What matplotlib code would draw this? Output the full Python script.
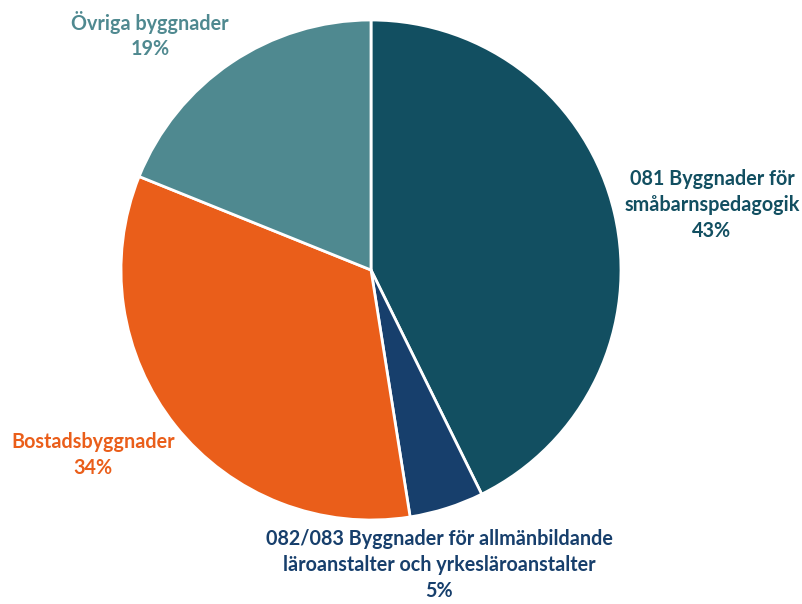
import matplotlib
matplotlib.use("Agg")
import matplotlib.pyplot as plt

categories = ["081 Byggnader för\nsmåbarnspedagogik",
              "082/083 Byggnader för allmänbildande\nläroanstalter och yrkesläroanstalter",
              "Bostadsbyggnader",
              "Övriga byggnader"]
values = [42.7, 4.8, 33.6, 18.9]
pct_labels = ["43%", "5%", "34%", "19%"]
colors = ["#124F61", "#173F6C", "#EA5E1A", "#4F8990"]

label_pos = [(1.364, 0.26), (0.272, -1.18), (-1.112, -0.74), (-0.884, 0.94)]

fig = plt.figure(figsize=(8.02, 6.04), dpi=100)
ax = fig.add_axes([121/802, 84/604, 500/802, 500/604])
ax.pie(values, colors=colors, startangle=90, counterclock=False,
       wedgeprops=dict(edgecolor="white", linewidth=2))
ax.set_xlim(-1, 1)
ax.set_ylim(-1, 1)
ax.set_aspect("equal")
ax.axis("off")

for cat, pct, col, (x, y) in zip(categories, pct_labels, colors, label_pos):
    ax.text(x, y, f"{cat}\n{pct}", ha="center", va="center", color=col,
            fontsize=14.2, fontweight="bold", family=["Lato", "DejaVu Sans"],
            linespacing=1.35, clip_on=False)

fig.savefig("out.png", dpi=100)
